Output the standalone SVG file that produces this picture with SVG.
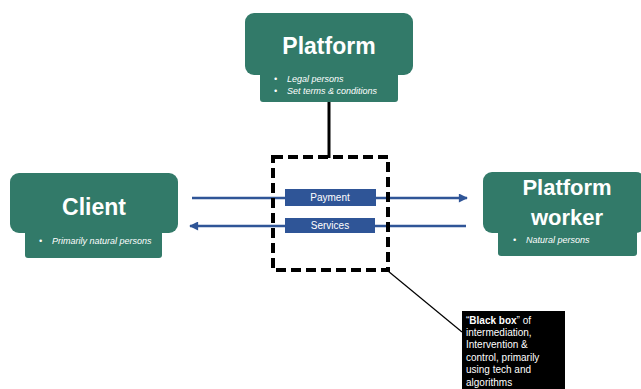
<svg xmlns="http://www.w3.org/2000/svg" width="641" height="389" viewBox="0 0 641 389">
  <defs>
    <style>
      .node { fill: #327a69; }
      .title { font-family: "Liberation Sans", Arial, sans-serif; font-weight: bold; fill: #ffffff; text-anchor: middle; }
      .bullet { font-family: "Liberation Sans", Arial, sans-serif; font-style: italic; font-size: 9px; fill: #ffffff; }
      .flow { stroke: #2f5597; stroke-width: 2.5; fill: none; }
      .tag { fill: #2f5597; }
      .tagtext { font-family: "Liberation Sans", Arial, sans-serif; font-size: 10px; fill: #ffffff; text-anchor: middle; }
      .note { font-family: "Liberation Sans", Arial, sans-serif; font-size: 10px; fill: #ffffff; }
    </style>
    <marker id="arrow" viewBox="0 0 10 10" refX="9" refY="5" markerWidth="4" markerHeight="3.6" orient="auto">
      <path d="M0,0 L10,5 L0,10 z" fill="#2f5597"/>
    </marker>
  </defs>

  <rect width="641" height="389" fill="#ffffff"/>

  <!-- connectors -->
  <g id="connectors">
    <line x1="329" y1="102" x2="329" y2="158" stroke="#000" stroke-width="3"/>
    <line class="flow" x1="192" y1="198" x2="467" y2="198" marker-end="url(#arrow)"/>
    <line class="flow" x1="466" y1="226" x2="190" y2="226" marker-end="url(#arrow)"/>
    <line x1="388" y1="271" x2="462" y2="332" stroke="#000" stroke-width="1.2"/>
  </g>

  <!-- black box boundary -->
  <g id="blackbox-frame">
    <rect x="273" y="157" width="115" height="113" fill="none" stroke="#000" stroke-width="4" stroke-dasharray="10,5"/>
  </g>

  <!-- flow labels -->
  <g id="payment">
    <rect class="tag" x="285" y="189" width="91" height="17"/>
    <text class="tagtext" x="330" y="201">Payment</text>
  </g>
  <g id="services">
    <rect class="tag" x="285" y="218" width="90" height="15"/>
    <text class="tagtext" x="330" y="229">Services</text>
  </g>

  <!-- Platform -->
  <g id="platform">
    <rect class="node" x="260" y="66" width="138" height="36" rx="3"/>
    <rect class="node" x="245" y="13" width="168" height="62" rx="9"/>
    <text class="title" x="329" y="54" font-size="23">Platform</text>
    <text class="bullet" x="274" y="82">•</text>
    <text class="bullet" x="287" y="82">Legal persons</text>
    <text class="bullet" x="274" y="94">•</text>
    <text class="bullet" x="287" y="94">Set terms &amp; conditions</text>
  </g>

  <!-- Client -->
  <g id="client">
    <rect class="node" x="25" y="225" width="137" height="33" rx="3"/>
    <rect class="node" x="10" y="173" width="168" height="60" rx="9"/>
    <text class="title" x="94" y="215" font-size="23">Client</text>
    <text class="bullet" x="39" y="244">•</text>
    <text class="bullet" x="52" y="244">Primarily natural persons</text>
  </g>

  <!-- Platform worker -->
  <g id="worker">
    <rect class="node" x="498" y="225" width="139" height="31" rx="3"/>
    <rect class="node" x="483" y="172" width="162" height="61" rx="9"/>
    <text class="title" x="567" y="195" font-size="22">Platform</text>
    <text class="title" x="567" y="225" font-size="22">worker</text>
    <text class="bullet" x="513" y="243">•</text>
    <text class="bullet" x="526" y="243">Natural persons</text>
  </g>

  <!-- note -->
  <g id="note">
    <rect x="462" y="311" width="103" height="80" fill="#000000"/>
    <text class="note" x="466" y="324">“<tspan font-weight="bold">Black box</tspan>” of</text>
    <text class="note" x="466" y="336">intermediation,</text>
    <text class="note" x="466" y="348">Intervention &amp;</text>
    <text class="note" x="466" y="361">control, primarily</text>
    <text class="note" x="466" y="373">using tech and</text>
    <text class="note" x="466" y="386">algorithms</text>
  </g>
</svg>
